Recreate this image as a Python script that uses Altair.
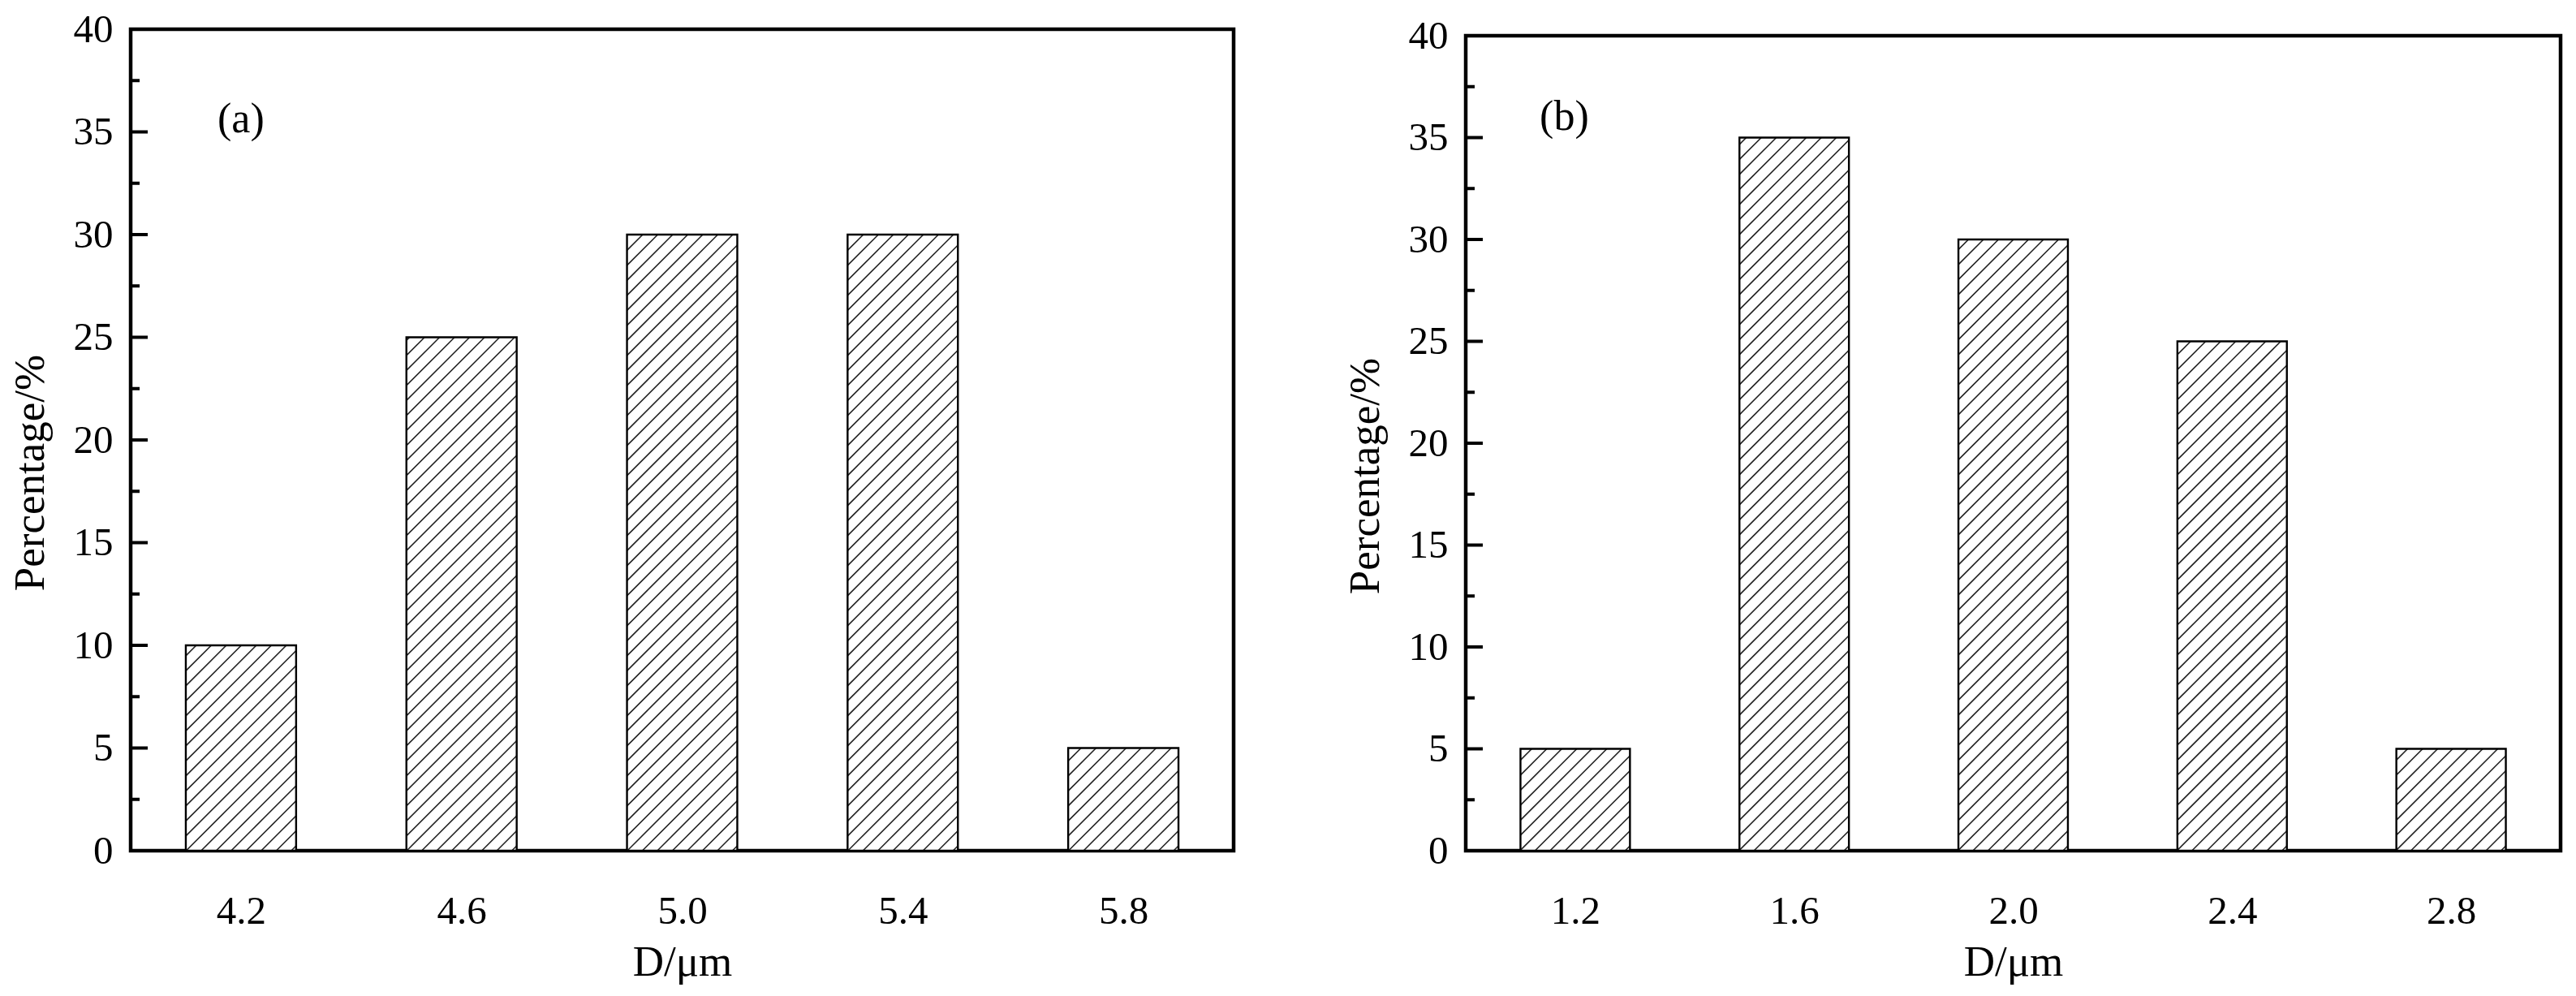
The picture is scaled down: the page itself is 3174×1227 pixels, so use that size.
import altair as alt
import pandas as pd
import numpy as np

# data
d_a = [4.2, 4.6, 5.0, 5.4, 5.8]
p_a = [10, 25, 30, 30, 5]
d_b = [1.2, 1.6, 2.0, 2.4, 2.8]
p_b = [5, 35, 30, 25, 5]
major_ticks = [5, 10, 15, 20, 25, 30, 35]
minor_ticks = [2.5, 7.5, 12.5, 17.5, 22.5, 27.5, 32.5, 37.5]
y_labels = [0, 5, 10, 15, 20, 25, 30, 35, 40]

FONT = "Liberation Serif"


def panel(cats, vals, dom, W, H, tag, tag_x, tag_y):
    half = (cats[1] - cats[0]) / 4.0
    bars = pd.DataFrame({"D": cats, "P": vals})
    bars["xa"] = bars["D"] - half
    bars["xb"] = bars["D"] + half
    bars["P0"] = 0
    kx = W / (dom[1] - dom[0])
    ky = H / 40.0
    s = 18.5
    segs = []
    for d, p in zip(cats, vals):
        xa = d - half
        wb = 2 * half * kx
        hb = p * ky
        c = wb - 6
        while c > -hb:
            u1 = max(0.0, c)
            u2 = min(wb, hb + c)
            if u2 > u1:
                segs.append({
                    "x1": xa + u1 / kx, "y1": (u1 - c) / ky,
                    "x2": xa + u2 / kx, "y2": (u2 - c) / ky,
                })
            c -= s
    hatch = pd.DataFrame(segs)

    xs = alt.Scale(domain=dom, nice=False, zero=False)
    ys = alt.Scale(domain=[0, 40], nice=False)
    xax = alt.Axis(values=cats, format=".1f", ticks=False, domain=False, grid=False,
                   labelPadding=50, title="D/μm", titlePadding=12)
    yax = alt.Axis(values=y_labels, ticks=False, domain=False, grid=False,
                   labelPadding=22, title="Percentage/%", titlePadding=26,
                   titleY=H / 2 + 40)

    fill = alt.Chart(bars).mark_bar(color="white", strokeWidth=0).encode(
        x=alt.X("xa:Q", scale=xs, axis=xax),
        x2="xb:Q",
        y=alt.Y("P:Q", scale=ys, axis=yax),
        y2="P0:Q",
    )
    lines = alt.Chart(hatch).mark_rule(color="#222222", strokeWidth=1.6).encode(
        x=alt.X("x1:Q", scale=xs), x2="x2:Q",
        y=alt.Y("y1:Q", scale=ys), y2="y2:Q",
    )
    outline = alt.Chart(bars).mark_bar(fill="white", stroke="black", strokeWidth=2.4, fillOpacity=0).encode(
        x=alt.X("xa:Q", scale=xs), x2="xb:Q", y=alt.Y("P:Q", scale=ys), y2="P0:Q",
    )
    maj = alt.Chart(pd.DataFrame({"t": major_ticks})).mark_rule(color="black", strokeWidth=4).encode(
        y=alt.Y("t:Q", scale=ys), x=alt.value(0), x2=alt.value(21),
    )
    mnr = alt.Chart(pd.DataFrame({"t": minor_ticks})).mark_rule(color="black", strokeWidth=4).encode(
        y=alt.Y("t:Q", scale=ys), x=alt.value(0), x2=alt.value(11),
    )
    lab = alt.Chart(pd.DataFrame({"x": [tag_x], "y": [tag_y], "t": [tag]})).mark_text(
        font=FONT, fontSize=52, color="black", align="center", baseline="middle"
    ).encode(x=alt.X("x:Q", scale=xs), y=alt.Y("y:Q", scale=ys), text="t:N")
    return alt.layer(fill, lines, outline, maj, mnr, lab).properties(width=W, height=H)


def spacer(w, h):
    return alt.Chart(pd.DataFrame({"t": [0]})).mark_rule(strokeOpacity=0).encode(
        x=alt.value(0), y=alt.value(0)
    ).properties(width=w, height=h, view=alt.ViewBackground(strokeOpacity=0, stroke=None))


left = panel(d_a, p_a, [4.0, 6.0], 1359, 1012, "(a)", 4.2, 35.6)
right = panel(d_b, p_b, [1.0, 3.0], 1349, 1004, "(b)", 1.18, 36.0)

left_col = alt.vconcat(spacer(1359, 1), left, spacing=0)
right_col = alt.vconcat(spacer(1349, 9), right, spacing=0)

chart = alt.hconcat(left_col, right_col, spacing=130).properties(
    padding=0, background="white"
).configure_view(
    stroke="black", strokeWidth=4.5
).configure_axis(
    labelFont=FONT, titleFont=FONT, labelFontSize=49, titleFontSize=53,
    labelColor="black", titleColor="black", titleFontWeight="normal",
)

chart.save("out.html", embed_options={"renderer": "svg", "actions": False})
